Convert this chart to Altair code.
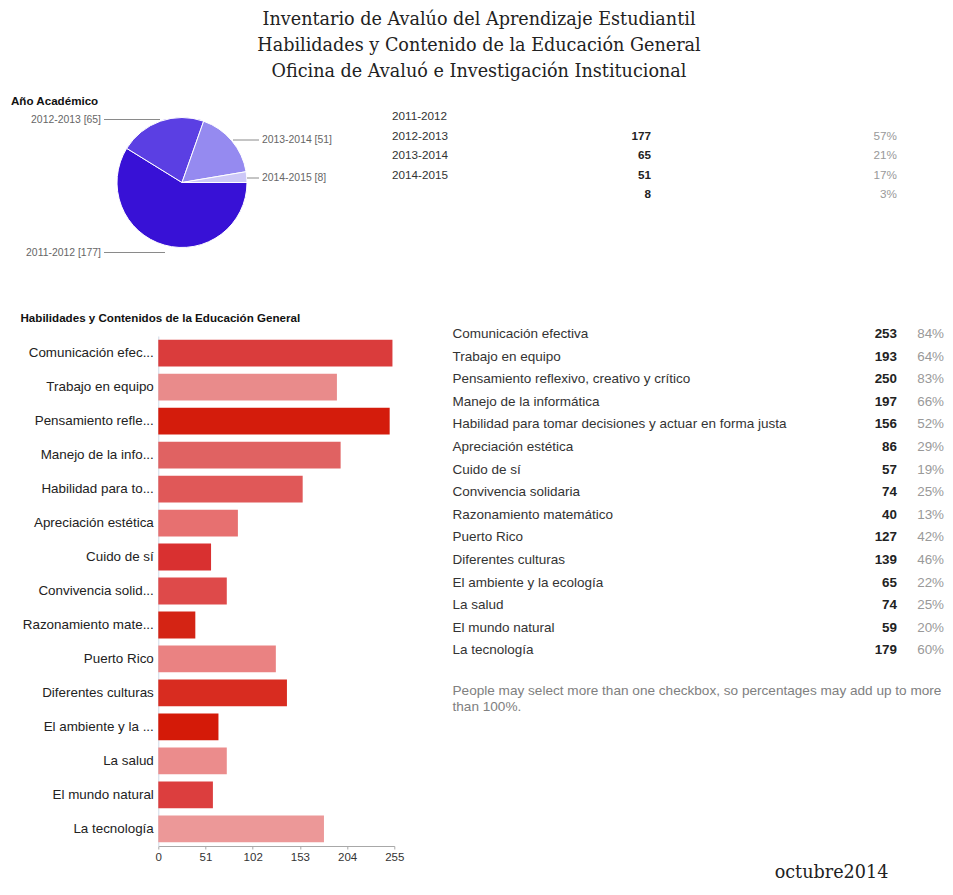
import math
import altair as alt
import pandas as pd

# ---------------- data ----------------
title_lines = [
    "Inventario de Avalúo del Aprendizaje Estudiantil",
    "Habilidades y Contenido de la Educación General",
    "Oficina de Avaluó e Investigación Institucional",
]
footer_lines = ["octubre2014"]

pie_title = ["Año Académico"]
years = ["2011-2012", "2012-2013", "2013-2014", "2014-2015"]
year_counts = [177, 65, 51, 8]
year_pcts = ["57%", "21%", "17%", "3%"]

bar_title = ["Habilidades y Contenidos de la Educación General"]
skills = [
    "Comunicación efectiva",
    "Trabajo en equipo",
    "Pensamiento reflexivo, creativo y crítico",
    "Manejo de la informática",
    "Habilidad para tomar decisiones y actuar en forma justa",
    "Apreciación estética",
    "Cuido de sí",
    "Convivencia solidaria",
    "Razonamiento matemático",
    "Puerto Rico",
    "Diferentes culturas",
    "El ambiente y la ecología",
    "La salud",
    "El mundo natural",
    "La tecnología",
]
skill_axis_labels = [
    "Comunicación efec...",
    "Trabajo en equipo",
    "Pensamiento refle...",
    "Manejo de la info...",
    "Habilidad para to...",
    "Apreciación estética",
    "Cuido de sí",
    "Convivencia solid...",
    "Razonamiento mate...",
    "Puerto Rico",
    "Diferentes culturas",
    "El ambiente y la ...",
    "La salud",
    "El mundo natural",
    "La tecnología",
]
skill_counts = [253, 193, 250, 197, 156, 86, 57, 74, 40, 127, 139, 65, 74, 59, 179]
skill_pcts = ["84%", "64%", "83%", "66%", "52%", "29%", "19%", "25%", "13%",
              "42%", "46%", "22%", "25%", "20%", "60%"]
x_ticks = [0, 51, 102, 153, 204, 255]
footnote_lines = [
    "People may select more than one checkbox, so percentages may add up to more",
    "than 100%.",
]

# ---------------- styles ----------------
pie_colors = ["#3811d6", "#5b3fe3", "#958af0", "#cdc8f7"]
bar_colors = ["#da3c3c", "#e98b8b", "#d41c0c", "#e06262", "#e05858",
              "#e77070", "#d93030", "#de4a4a", "#d42414", "#ea8282",
              "#d82c20", "#d41a08", "#eb8c8c", "#dc3e3e", "#ec9898"]
SANS = "Liberation Sans"
SERIF = "DejaVu Serif"

# plot-area origin (page coordinates) and helpers
OX, OY = 158.3, 336.0
PW, PH = 236, 510
TOTAL_W, TOTAL_H = 937, 875


def px(x):
    return x - OX


def py(y):
    return y - OY


# ---------------- tables ----------------
year_df = pd.DataFrame({
    "year": years, "n": year_counts, "pct": year_pcts,
    "row": list(range(len(years))),
})
skill_df = pd.DataFrame({
    "skill": skills, "axis_label": skill_axis_labels,
    "count": skill_counts, "pct": skill_pcts,
    "row": list(range(len(skills))),
})
title_df = pd.DataFrame({"t": title_lines, "row": list(range(len(title_lines)))})
foot_df = pd.DataFrame({"t": footnote_lines, "row": list(range(len(footnote_lines)))})
footer_df = pd.DataFrame({"t": footer_lines})
pie_title_df = pd.DataFrame({"t": pie_title})
bar_title_df = pd.DataFrame({"t": bar_title})

# ---------------- bar chart ----------------
bars = alt.Chart(skill_df).mark_bar().encode(
    x=alt.X("count:Q",
            scale=alt.Scale(domain=[0, 255], nice=False),
            axis=alt.Axis(values=x_ticks, title=None, grid=False, labelFlush=False,
                          domainColor="#a8a8a8", tickColor="#a8a8a8", tickSize=3,
                          labelPadding=2, labelFontSize=11.5, labelColor="#333333",
                          labelFont=SANS)),
    y=alt.Y("axis_label:N", sort=skill_axis_labels,
            scale=alt.Scale(paddingInner=0.213, paddingOuter=0.107),
            axis=alt.Axis(title=None, ticks=False, tickSize=0, labelPadding=5,
                          domainColor="#cfd9e6", labelFontSize=13.4,
                          labelColor="#222222", labelFont=SANS, labelLimit=0)),
    color=alt.Color("axis_label:N",
                    scale=alt.Scale(domain=skill_axis_labels, range=bar_colors),
                    legend=None),
)

# ---------------- skill table ----------------
row_step = 22.6
skill_y = alt.Y("row:Q", axis=None,
                scale=alt.Scale(domain=[0, len(skills) - 1],
                                range=[py(334), py(334 + row_step * (len(skills) - 1))]))
tbl_labels = alt.Chart(skill_df).mark_text(
    align="left", baseline="middle", font=SANS, fontSize=13.5, color="#333333"
).encode(x=alt.value(px(452.5)), y=skill_y, text="skill:N")
tbl_counts = alt.Chart(skill_df).mark_text(
    align="right", baseline="middle", font=SANS, fontSize=13.4, fontWeight="bold",
    color="#222222"
).encode(x=alt.value(px(897)), y=skill_y, text="count:Q")
tbl_pcts = alt.Chart(skill_df).mark_text(
    align="right", baseline="middle", font=SANS, fontSize=13.4, color="#999999"
).encode(x=alt.value(px(944)), y=skill_y, text="pct:N")

foot_y = alt.Y("row:Q", axis=None,
               scale=alt.Scale(domain=[0, 1], range=[py(690.5), py(706.5)]))
footnote = alt.Chart(foot_df).mark_text(
    align="left", baseline="middle", font=SANS, fontSize=13.6, color="#808080"
).encode(x=alt.value(px(452.5)), y=foot_y, text="t:N")

# ---------------- pie ----------------
pie = alt.Chart(year_df).mark_arc(outerRadius=65, stroke="white", strokeWidth=1).encode(
    theta=alt.Theta("n:Q", stack=True,
                    scale=alt.Scale(range=[math.pi / 2, math.pi / 2 + 2 * math.pi])),
    color=alt.Color("year:N", scale=alt.Scale(domain=years, range=pie_colors),
                    legend=None),
    order=alt.Order("row:Q"),
    x=alt.value(px(182)),
    y=alt.value(py(182.5)),
)

# pie labels with leader lines: (year, align, text x, y, line x1, line x2)
pie_label_layout = [
    ("2011-2012", "right", 101, 252.5, 104, 165),
    ("2012-2013", "right", 101, 119.5, 104, 160),
    ("2013-2014", "left", 262, 140, 233, 259),
    ("2014-2015", "left", 262, 178, 247, 259),
]
pie_label_layers = []
for yr, al, tx, ty, lx1, lx2 in pie_label_layout:
    base = alt.Chart(year_df).transform_filter(
        alt.datum.year == yr
    ).transform_calculate(
        lab="datum.year + ' [' + datum.n + ']'"
    )
    pie_label_layers.append(
        base.mark_rule(color="#8a8a8a", strokeWidth=1).encode(
            x=alt.value(px(lx1)), x2=alt.value(px(lx2)), y=alt.value(py(ty)))
    )
    pie_label_layers.append(
        base.mark_text(align=al, baseline="middle", font=SANS, fontSize=10.4,
                       color="#666666").encode(
            x=alt.value(px(tx)), y=alt.value(py(ty)), text="lab:N")
    )

# ---------------- year table ----------------
year_step = 19.6
year_y = alt.Y("row:Q", axis=None,
               scale=alt.Scale(domain=[0, 4], range=[py(116), py(116 + year_step * 4)]))
year_y2 = alt.Y("row2:Q", axis=None,
                scale=alt.Scale(domain=[0, 4], range=[py(116), py(116 + year_step * 4)]))
ytbl_labels = alt.Chart(year_df).mark_text(
    align="left", baseline="middle", font=SANS, fontSize=11.7, color="#333333"
).encode(x=alt.value(px(392)), y=year_y, text="year:N")
ytbl_counts = alt.Chart(year_df).transform_calculate(row2="datum.row + 1").mark_text(
    align="right", baseline="middle", font=SANS, fontSize=11.7, fontWeight="bold",
    color="#222222"
).encode(x=alt.value(px(651)), y=year_y2, text="n:Q")
ytbl_pcts = alt.Chart(year_df).transform_calculate(row2="datum.row + 1").mark_text(
    align="right", baseline="middle", font=SANS, fontSize=11.7, color="#999999"
).encode(x=alt.value(px(897)), y=year_y2, text="pct:N")

# ---------------- titles ----------------
title_y = alt.Y("row:Q", axis=None,
                scale=alt.Scale(domain=[0, 2], range=[py(20), py(72)]))
main_title = alt.Chart(title_df).mark_text(
    align="center", baseline="middle", font=SERIF, fontSize=17.6, color="#222222"
).encode(x=alt.value(px(479)), y=title_y, text="t:N")

pie_heading = alt.Chart(pie_title_df).mark_text(
    align="left", baseline="middle", font=SANS, fontSize=11.6, fontWeight="bold",
    color="#111111"
).encode(x=alt.value(px(11)), y=alt.value(py(102)), text="t:N")
bar_heading = alt.Chart(bar_title_df).mark_text(
    align="left", baseline="middle", font=SANS, fontSize=11.6, fontWeight="bold",
    color="#111111"
).encode(x=alt.value(px(20.5)), y=alt.value(py(318.5)), text="t:N")
footer = alt.Chart(footer_df).mark_text(
    align="center", baseline="middle", font=SERIF, fontSize=17.6, color="#222222"
).encode(x=alt.value(px(831.5)), y=alt.value(py(873)), text="t:N")

chart = alt.layer(
    bars, tbl_labels, tbl_counts, tbl_pcts, footnote,
    pie, *pie_label_layers,
    ytbl_labels, ytbl_counts, ytbl_pcts,
    main_title, pie_heading, bar_heading, footer,
).resolve_scale(
    y="independent", color="independent", theta="independent"
).properties(
    width=PW, height=PH,
    autosize=alt.AutoSizeParams(type="none"),
    padding={"left": OX - 8, "top": OY - 8,
             "right": TOTAL_W - (OX - 8) - PW, "bottom": TOTAL_H - (OY - 8) - PH},
    background="white",
).configure_view(stroke=None)

chart.save("out.html", embed_options={"renderer": "svg", "actions": False})
